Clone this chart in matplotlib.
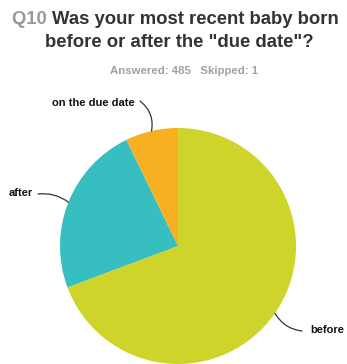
import numpy as np
import matplotlib
matplotlib.use('Agg')
import matplotlib.pyplot as plt

# survey answers (percent of respondents)
labels = ['before', 'after', 'on the due date']
values = [69.3, 23.5, 7.2]
colors = ['#CFD42A', '#36BEC0', '#F6B022']

W, H = 347, 364
plt.rcParams['font.family'] = ['Liberation Sans', 'DejaVu Sans']

fig = plt.figure(figsize=(W / 100, H / 100), dpi=100)
ax = fig.add_axes([0, 0, 1, 1])

# pie in pixel coordinates (y measured from the bottom)
cx, cy, r = 178, H - 246, 118
wedges, _ = ax.pie(values, colors=colors, startangle=90, counterclock=False,
                   center=(cx, cy), radius=r,
                   wedgeprops=dict(linewidth=0))
ax.set_xlim(0, W)
ax.set_ylim(0, H)
ax.set_aspect('equal')
ax.axis('off')

# label text position, alignment, connector start and curvature (image px)
label_pos = {'before': (310, 330, 'left', (302, 331), -0.25),
             'after': (33, 193, 'right', (38, 194), -0.2),
             'on the due date': (135, 103, 'right', (140, 101), -0.3)}

for w, lab in zip(wedges, labels):
    mid = np.deg2rad((w.theta1 + w.theta2) / 2)
    px = cx + r * np.cos(mid)
    py = cy + r * np.sin(mid)
    tx, ty, ha, (lx, ly), rad = label_pos[lab]
    ax.text(tx, H - ty, lab, ha=ha, va='center', fontsize=8,
            fontweight='bold', color='#111111')
    ax.annotate('', xy=(px, py), xytext=(lx, H - ly),
                arrowprops=dict(arrowstyle='-', color='#333333', lw=0.9,
                                shrinkA=0, shrinkB=0,
                                connectionstyle='arc3,rad=%s' % rad))

# title: grey question number then dark question text
title1 = 'Was your most recent baby born'
title2 = 'before or after the "due date"?'
fs = 13.3
t_q = fig.text(0, 0, 'Q10 ', fontsize=fs, color='#999999', fontweight='bold')
t_1 = fig.text(0, 0, title1, fontsize=fs, color='#333333', fontweight='bold')
fig.canvas.draw()
rend = fig.canvas.get_renderer()
wq = t_q.get_window_extent(rend).width
w1 = t_1.get_window_extent(rend).width
x0 = (W - (wq + w1)) / 2 + 2
t_q.set_position((x0 / W, 1 - 24 / H))
t_1.set_position(((x0 + wq) / W, 1 - 24 / H))
fig.text(179 / W, 1 - 47 / H, title2, fontsize=fs, color='#333333',
         fontweight='bold', ha='center')

fig.text(184 / W, 1 - 74 / H, 'Answered: 485   Skipped: 1', fontsize=8.2,
         color='#A0A0A0', fontweight='bold', ha='center')

fig.savefig('out.png', dpi=100)
